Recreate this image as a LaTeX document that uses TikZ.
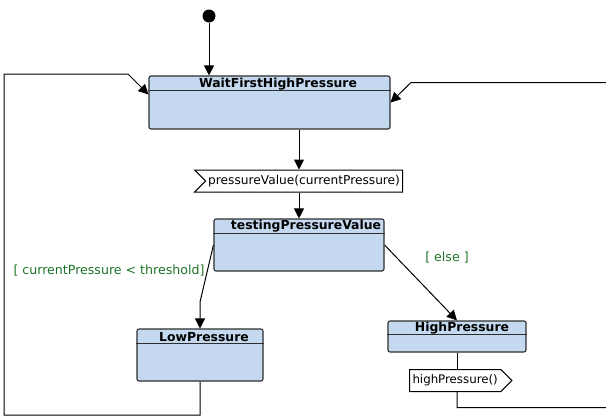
\documentclass[tikz,border=0pt]{standalone}
\usepackage{fontspec}
\setmainfont{DejaVu Sans}
\usetikzlibrary{arrows.meta,shapes.symbols}
\definecolor{statefill}{RGB}{196,217,240}
\definecolor{statedraw}{RGB}{45,45,45}
\definecolor{guardgreen}{RGB}{30,115,40}
\tikzset{
  state/.style={draw=statedraw,fill=statefill,line width=1.1pt,rounded corners=2pt,inner sep=0pt},
  statename/.style={font=\fontsize{12.4}{14}\selectfont\bfseries,inner sep=0pt},
  divider/.style={draw=statedraw,line width=1pt},
  flow/.style={line width=1pt,-{Triangle[length=10pt,width=10pt]}},
  wire/.style={line width=1pt},
  event/.style={draw=black,fill=white,line width=1pt,signal,font=\fontsize{12.2}{14}\selectfont,inner xsep=2.5pt,inner ysep=0pt,minimum height=22pt},
  guard/.style={text=guardgreen,font=\fontsize{12.6}{14}\selectfont,inner sep=0pt}
}
\begin{document}
\begin{tikzpicture}[x=1pt,y=-1pt]
\useasboundingbox (0,0) rectangle (606,418);
% start
\node[circle,fill=black,minimum size=13pt,inner sep=0pt] (init) at (209,16) {};
% states
\node[state,minimum width=241pt,minimum height=53pt] (wait) at (269.5,102.5) {};
\draw[divider] ([yshift=-15pt]wait.north west) -- ([yshift=-15pt]wait.north east);
\node[statename] at (278,84) {WaitFirstHighPressure};

\node[state,minimum width=170pt,minimum height=52pt] (tpv) at (299,245) {};
\draw[divider] ([yshift=-15pt]tpv.north west) -- ([yshift=-15pt]tpv.north east);
\node[statename] at (306,226) {testingPressureValue};

\node[state,minimum width=126pt,minimum height=52pt] (low) at (200,355) {};
\draw[divider] ([yshift=-15pt]low.north west) -- ([yshift=-15pt]low.north east);
\node[statename] at (204,337) {LowPressure};

\node[state,minimum width=138pt,minimum height=31pt] (hp) at (457,336.5) {};
\draw[divider] ([yshift=-14pt]hp.north west) -- ([yshift=-14pt]hp.north east);
\node[statename] at (462,328) {HighPressure};

% signals
\node[event,signal from=west,signal to=nowhere,anchor=east] (recv) at (403,181) {pressureValue(currentPressure)};
\node[event,signal to=east,signal from=nowhere,anchor=west,inner xsep=3pt,font=\fontsize{11.8}{14}\selectfont] (send) at (409,380.5) {highPressure()};

% guards
\node[guard] (lowguard) at (109,271) {[ currentPressure < threshold]};
\node[guard] (elseguard) at (447,258) {[ else ]};

% transitions
\draw[flow] (init) -- (init |- wait.north);
\draw[flow] (wait.south -| tpv) -- (recv.north -| tpv);
\draw[flow] (recv.south -| tpv) -- (tpv.north);
\coordinate (lowbend) at (200,302);
\draw[flow] (tpv.west) -- (lowbend) -- (low.north);
\draw[flow] (tpv.east) -- (hp.north);
\draw[wire] (hp.south) -- (hp.south |- send.north);
% loops back to the first state
\coordinate (loopbl) at (4,415);
\coordinate (looptl) at (4,74);
\coordinate (loopknee) at (128,74);
\draw[flow] (low.south) |- (loopbl) -- (looptl) -- (loopknee) -- ([yshift=8pt]wait.west);
\coordinate (rbot) at (612,407.5);
\coordinate (rtop) at (612,82.5);
\coordinate (rknee) at (411,82.5);
\draw[flow] (hp.south |- send.south) |- (rbot) -- (rtop) -- (rknee) -- (wait.east);
\end{tikzpicture}
\end{document}
